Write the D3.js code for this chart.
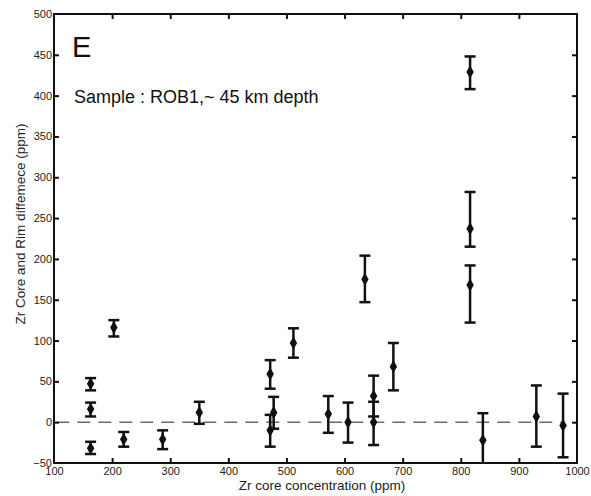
<!DOCTYPE html>
<html>
<head>
<meta charset="utf-8">
<script src="https://cdn.jsdelivr.net/npm/d3@7"></script>
<style>
  body { margin: 0; background: #fff; }
  text { font-family: "Liberation Sans", Arial, sans-serif; }
</style>
</head>
<body>
<svg id="chart"></svg>
<script>
// Zr core concentration (ppm)
const coreZr = [163, 163, 163, 203, 220, 287, 350, 472, 472, 478, 512, 572, 606, 650, 650, 684, 635, 816, 816, 816, 838, 930, 976];
// core - rim difference (ppm)
const diff = [47, 16, -32, 116, -21, -21, 12, 59, -10, 12, 97, 10, 0, 32, 0, 68, 175, 168, 237, 429, -22, 7, -4];
const errLow = [39, 7, -39, 105, -30, -33, -2, 41, -30, -8, 79, -13, -25, 7, -28, 39, 147, 122, 215, 408, -55, -30, -43];
const errHigh = [54, 24, -24, 125, -12, -10, 25, 76, 9, 31, 115, 32, 24, 57, 25, 97, 204, 192, 282, 448, 11, 45, 35];

const xTicks = [100, 200, 300, 400, 500, 600, 700, 800, 900, 1000];
const yTicks = [-50, 0, 50, 100, 150, 200, 250, 300, 350, 400, 450, 500];

const width = 591, height = 496;
const margin = { top: 14, right: 14, bottom: 33, left: 54 };

const svg = d3.select("#chart").attr("width", width).attr("height", height);

const x = d3.scaleLinear().domain([100, 1000]).range([margin.left, width - margin.right]);
const y = d3.scaleLinear().domain([-50, 500]).range([height - margin.bottom, margin.top]);

const data = coreZr.map((v, i) => ({ x: v, y: diff[i], lo: errLow[i], hi: errHigh[i] }));

// zero reference line
svg.append("line")
    .attr("x1", x(104)).attr("x2", x(976))
    .attr("y1", y(0)).attr("y2", y(0))
    .attr("stroke", "#222").attr("stroke-width", 1)
    .attr("stroke-dasharray", "13,8");

svg.append("clipPath").attr("id", "plot")
    .append("rect")
    .attr("x", margin.left).attr("y", margin.top)
    .attr("width", width - margin.left - margin.right)
    .attr("height", height - margin.top - margin.bottom);

const marks = svg.append("g").attr("clip-path", "url(#plot)");

const bars = marks.selectAll("g.err")
    .data(data)
    .join("g")
    .attr("class", "err")
    .attr("stroke", "#111")
    .attr("stroke-width", 2.5);

bars.append("line")
    .attr("x1", d => x(d.x)).attr("x2", d => x(d.x))
    .attr("y1", d => y(d.lo)).attr("y2", d => y(d.hi));
bars.append("line")
    .attr("x1", d => x(d.x) - 5.5).attr("x2", d => x(d.x) + 5.5)
    .attr("y1", d => y(d.lo)).attr("y2", d => y(d.lo));
bars.append("line")
    .attr("x1", d => x(d.x) - 5.5).attr("x2", d => x(d.x) + 5.5)
    .attr("y1", d => y(d.hi)).attr("y2", d => y(d.hi));

marks.selectAll("path.pt")
    .data(data)
    .join("path")
    .attr("class", "pt")
    .attr("d", d3.symbol(d3.symbolDiamond, 48))
    .attr("transform", d => `translate(${x(d.x)},${y(d.y)})`)
    .attr("fill", "#111");

// axes, ticks pointing inward on all four sides
const tickLen = 5;
const axisStyle = g => {
    g.select(".domain").remove();
    g.selectAll(".tick line").attr("stroke", "#111").attr("stroke-width", 2);
    g.selectAll(".tick text").attr("fill", "#222").style("font-size", "11px");
};

svg.append("g")
    .attr("transform", `translate(0,${y(-50)})`)
    .call(d3.axisBottom(x).tickValues(xTicks).tickFormat(d3.format("d"))
        .tickSizeInner(-tickLen).tickSizeOuter(0).tickPadding(4))
    .call(axisStyle)
    .call(g => g.selectAll(".tick line").filter(d => d === 100 || d === 1000).remove());

svg.append("g")
    .attr("transform", `translate(0,${y(500)})`)
    .call(d3.axisTop(x).tickValues(xTicks).tickSizeInner(-tickLen).tickSizeOuter(0).tickFormat(""))
    .call(axisStyle)
    .call(g => g.selectAll(".tick line").filter(d => d === 100 || d === 1000).remove());

svg.append("g")
    .attr("transform", `translate(${x(100)},0)`)
    .call(d3.axisLeft(y).tickValues(yTicks).tickSizeInner(-tickLen).tickSizeOuter(0).tickPadding(2))
    .call(axisStyle)
    .call(g => g.selectAll(".tick line").filter(d => d === -50 || d === 500).remove());

svg.append("g")
    .attr("transform", `translate(${x(1000)},0)`)
    .call(d3.axisRight(y).tickValues(yTicks).tickSizeInner(-tickLen).tickSizeOuter(0).tickFormat(""))
    .call(axisStyle)
    .call(g => g.selectAll(".tick line").filter(d => d === -50 || d === 500).remove());

// frame
svg.append("rect")
    .attr("x", x(100)).attr("y", y(500))
    .attr("width", x(1000) - x(100))
    .attr("height", y(-50) - y(500))
    .attr("fill", "none")
    .attr("stroke", "#111")
    .attr("stroke-width", 2);

// labels
svg.append("text")
    .attr("x", 322).attr("y", 490)
    .attr("text-anchor", "middle")
    .attr("fill", "#222")
    .style("font-size", "13.5px")
    .text("Zr core concentration (ppm)");

svg.append("text")
    .attr("transform", `translate(25,224) rotate(-90)`)
    .attr("text-anchor", "middle")
    .attr("fill", "#222")
    .style("font-size", "13.5px")
    .text("Zr Core and Rim diffemece (ppm)");

svg.append("text")
    .attr("x", 72).attr("y", 57)
    .attr("fill", "#111")
    .style("font-size", "29px")
    .text("E");

svg.append("text")
    .attr("x", 74).attr("y", 103)
    .attr("fill", "#111")
    .style("font-size", "18px")
    .text("Sample : ROB1,~ 45 km depth");
</script>
</body>
</html>
